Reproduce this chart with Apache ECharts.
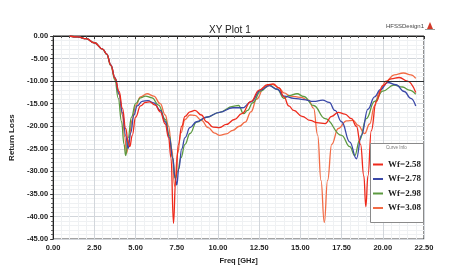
<!DOCTYPE html>
<html>
<head>
<meta charset="utf-8">
<script src="https://cdn.jsdelivr.net/npm/echarts@6/dist/echarts.min.js"></script>
<style>html,body{margin:0;padding:0;background:#fff}#c{width:460px;height:270px}</style>
</head>
<body>
<div id="c"></div>
<script>
// ---- Data ----
const xTicks = [0, 2.5, 5, 7.5, 10, 12.5, 15, 17.5, 20, 22.5];
const yTicks = [0, -5, -10, -15, -20, -25, -30, -35, -40, -45];
const legendNames = ['Wf=2.58', 'Wf=2.78', 'Wf=2.98', 'Wf=3.08'];
const refLevel = -10;

const redFreq = [1,1.5,2,2.5,3,3.25,3.5,3.75,4.0,4.2,4.4,4.55,4.65,4.8,5.0,5.3,5.6,5.85,6.2,6.5,6.8,7.0,7.15,7.3,7.43,7.6,7.8,8.0,8.3,8.6,9.0,9.3,9.7,10.1,10.5,11.0,11.45,12.0,12.5,13.0,13.35,13.7,14.0,14.3,14.6,15.1,15.6,16.0,16.5,16.9,17.3,17.7,18.1,18.4,18.65,18.85,18.97,19.1,19.3,19.6,20.0,20.5,21.0,21.5,22.0];
const redLoss = [0,-0.2,-0.6,-1.5,-2.9,-4.0,-6.5,-9.4,-12.3,-16,-20.5,-23.5,-24.5,-22,-18,-15.5,-14.7,-14.6,-15.3,-16.8,-19.5,-22.5,-27,-41.5,-32,-24,-20,-17.8,-16.8,-16.5,-17.5,-19,-20.2,-20.3,-19.6,-18.5,-17.2,-14.5,-12,-10.8,-10.6,-11.5,-13.5,-15.5,-16.5,-17.8,-18.7,-19.2,-19.4,-17.8,-16.9,-17.3,-18.3,-20,-24,-31,-37.8,-31,-21,-14.5,-11,-9.5,-9.2,-10,-12.5];

const blueFreq = [1,1.5,2,2.5,3,3.25,3.5,3.75,4.0,4.2,4.4,4.55,4.7,4.9,5.1,5.4,5.75,6.1,6.5,6.8,7.05,7.25,7.4,7.5,7.62,7.8,8.0,8.3,8.7,9.3,10.1,10.9,11.5,12.0,12.6,13.1,13.6,14.0,14.6,15.2,15.8,16.35,16.75,17.1,17.5,18.0,18.4,18.7,19.1,19.5,19.85,20.3,20.8,21.3,21.7,22.0];
const blueLoss = [0,-0.2,-0.6,-1.5,-2.9,-4.0,-6.4,-9.3,-12.8,-17,-22,-24.9,-21.5,-17.5,-15.5,-14.5,-14.3,-14.8,-16.5,-19,-22.5,-27,-31.5,-33,-29.5,-25,-22.5,-20.3,-19,-18,-16.9,-15.9,-15.9,-14.6,-12,-11,-11.8,-13.3,-13.8,-14.1,-14.5,-14.2,-14.7,-16.5,-19,-23.5,-27.2,-22,-16.2,-13.5,-11.9,-10.3,-10.8,-12.3,-13.8,-15.5];

const greenFreq = [1,1.5,2,2.5,3,3.25,3.5,3.75,3.95,4.15,4.3,4.4,4.55,4.75,5.0,5.3,5.6,6.0,6.4,6.8,7.05,7.25,7.4,7.55,7.75,8.0,8.3,8.7,9.3,10.1,10.9,11.25,11.55,11.8,12.1,12.6,13.1,13.6,14.0,14.3,14.8,15.2,15.8,16.5,17.5,18.0,18.3,18.6,19.0,19.5,20.0,20.67,21.2,21.6,22.0];
const greenLoss = [0,-0.2,-0.6,-1.5,-2.9,-4.1,-6.6,-9.8,-13.8,-19,-24,-26.5,-22.5,-18,-15,-13.7,-13.3,-13.7,-15.3,-18.5,-22,-27,-31.5,-30,-27,-24,-21.6,-19.1,-18,-16.9,-15.6,-15.4,-17.2,-16.5,-14.8,-12.2,-10.9,-11.8,-13.8,-13.2,-12.8,-13.4,-15.4,-18.3,-22,-24.5,-26.5,-23,-18.3,-14.5,-12.2,-10.9,-11.3,-12,-12.9];

const orangeFreq = [1,1.5,2,2.5,3,3.25,3.5,3.75,4.0,4.2,4.35,4.45,4.6,4.8,5.0,5.3,5.7,6.1,6.5,6.8,7.0,7.2,7.37,7.55,7.75,8.0,8.3,8.6,9.0,9.4,9.8,10.1,10.5,10.9,11.3,11.65,12.0,12.35,12.8,13.3,13.7,14.0,14.4,15.0,15.5,15.8,16.05,16.25,16.45,16.65,16.9,17.3,17.8,18.2,18.5,18.9,19.2,19.5,19.8,20.2,20.7,21.25,21.7,22.0];
const orangeLoss = [0,-0.2,-0.6,-1.5,-2.9,-4.0,-6.4,-9.2,-13,-17.5,-22.5,-26,-23,-18.5,-15.5,-13.5,-12.8,-13.3,-15,-17.5,-20,-25,-33.3,-26,-21.5,-18.5,-17.5,-17.6,-18.7,-20.3,-21.5,-22,-21.7,-20.9,-20,-19.1,-16.8,-14,-11.4,-10.7,-11.5,-12.6,-13.3,-13.6,-14.2,-16,-22,-32,-41.3,-32,-24,-20.5,-18.8,-18.7,-19.8,-21.6,-19.5,-15.5,-12.3,-10,-8.6,-8.2,-8.6,-9.4];

const colors = ['#ee2a1c', '#3a48a8', '#5c9a40', '#f26b45'];

function pairs(fs, ls) { return fs.map((f, i) => [f, ls[i]]); }

const narrow = "'Liberation Sans Narrow','Liberation Sans',Arial,sans-serif";

const chart = echarts.init(document.getElementById('c'), null, {renderer: 'canvas'});

function mkSeries(name, fs, ls, color, extra) {
  return Object.assign({
    name: name,
    type: 'line',
    data: pairs(fs, ls),
    smooth: 0.45,
    smoothMonotone: 'x',
    symbol: 'none',
    showSymbol: false,
    lineStyle: {color: color, width: 1.3},
    itemStyle: {color: color},
    z: 2
  }, extra || {});
}

const option = {
  animation: false,
  backgroundColor: '#ffffff',
  grid: {left: 42, right: 36, top: 36, bottom: 28, show: true, borderColor: '#222', borderWidth: 1},
  title: {
    text: 'XY Plot 1', left: 204, top: 20,
    textStyle: {fontSize: 10, fontWeight: 'normal', color: '#222', fontFamily: narrow}
  },
  xAxis: {
    type: 'value', min: xTicks[0], max: xTicks[xTicks.length - 1], interval: xTicks[1] - xTicks[0],
    name: 'Freq [GHz]', nameLocation: 'middle', nameGap: 13,
    nameTextStyle: {fontSize: 7.5, color: '#222', fontFamily: narrow, fontWeight: 'bold'},
    axisLine: {lineStyle: {color: '#222', width: 1}},
    axisTick: {show: true, length: 3, lineStyle: {color: '#333'}},
    minorTick: {show: true, splitNumber: 5, length: 2, lineStyle: {color: '#555'}},
    axisLabel: {formatter: v => v.toFixed(2), fontSize: 7.5, fontWeight: 'bold', color: '#222', fontFamily: narrow, margin: 5},
    splitLine: {show: true, lineStyle: {color: '#d2d6db', width: 1}},
    minorSplitLine: {show: true, lineStyle: {color: '#eff1f3', width: 1}}
  },
  yAxis: {
    type: 'value', min: yTicks[yTicks.length - 1], max: yTicks[0], interval: 5,
    name: 'Return Loss', nameLocation: 'middle', nameGap: 27, nameRotate: 90,
    nameTextStyle: {fontSize: 8, color: '#222', fontFamily: narrow, fontWeight: 'bold'},
    axisLine: {show: true, lineStyle: {color: '#222', width: 1}},
    axisTick: {show: true, inside: false, length: 3, lineStyle: {color: '#333'}},
    minorTick: {show: true, splitNumber: 5, length: 2, lineStyle: {color: '#555'}},
    axisLabel: {formatter: v => v.toFixed(2), fontSize: 7.5, fontWeight: 'bold', color: '#222', fontFamily: narrow, margin: 5},
    splitLine: {show: true, lineStyle: {color: '#d2d6db', width: 1}},
    minorSplitLine: {show: true, lineStyle: {color: '#eff1f3', width: 1}}
  },
  legend: {
    data: legendNames,
    orient: 'vertical',
    left: 368, top: 155,
    icon: 'rect',
    itemWidth: 10, itemHeight: 2,
    itemGap: 5.5,
    z: 6,
    textStyle: {fontFamily: "'Liberation Serif','DejaVu Serif',serif", fontWeight: 'bold', fontSize: 9, color: '#222'}
  },
  graphic: {
    elements: [
      {type: 'rect', z: 5, shape: {x: 370.5, y: 143.5, width: 53, height: 79},
       style: {fill: '#ffffff', stroke: '#8a8a8a', lineWidth: 1}},
      {type: 'text', z: 6, left: 386, top: 145,
       style: {text: 'Curve Info', fontSize: 4.5, fill: '#777', fontFamily: narrow}},
      {type: 'text', z: 6, left: 386, top: 23,
       style: {text: 'HFSSDesign1', fontSize: 6, fill: '#444', fontFamily: narrow}},
      {type: 'polygon', z: 6, shape: {points: [[430, 22], [427, 29], [433, 29]]},
       style: {fill: '#d23a2a'}},
      {type: 'line', z: 6, shape: {x1: 425, y1: 29.5, x2: 435, y2: 29.5},
       style: {stroke: '#999', lineWidth: 1}}
    ]
  },
  series: [
    mkSeries(legendNames[3], orangeFreq, orangeLoss, colors[3], {
      markLine: {silent: true, symbol: 'none', label: {show: false},
        lineStyle: {color: '#2b2f33', width: 1.2, type: 'solid'},
        data: [{yAxis: refLevel}]}
    }),
    mkSeries(legendNames[2], greenFreq, greenLoss, colors[2]),
    mkSeries(legendNames[1], blueFreq, blueLoss, colors[1]),
    mkSeries(legendNames[0], redFreq, redLoss, colors[0])
  ]
};
chart.setOption(option);
</script>
</body>
</html>
